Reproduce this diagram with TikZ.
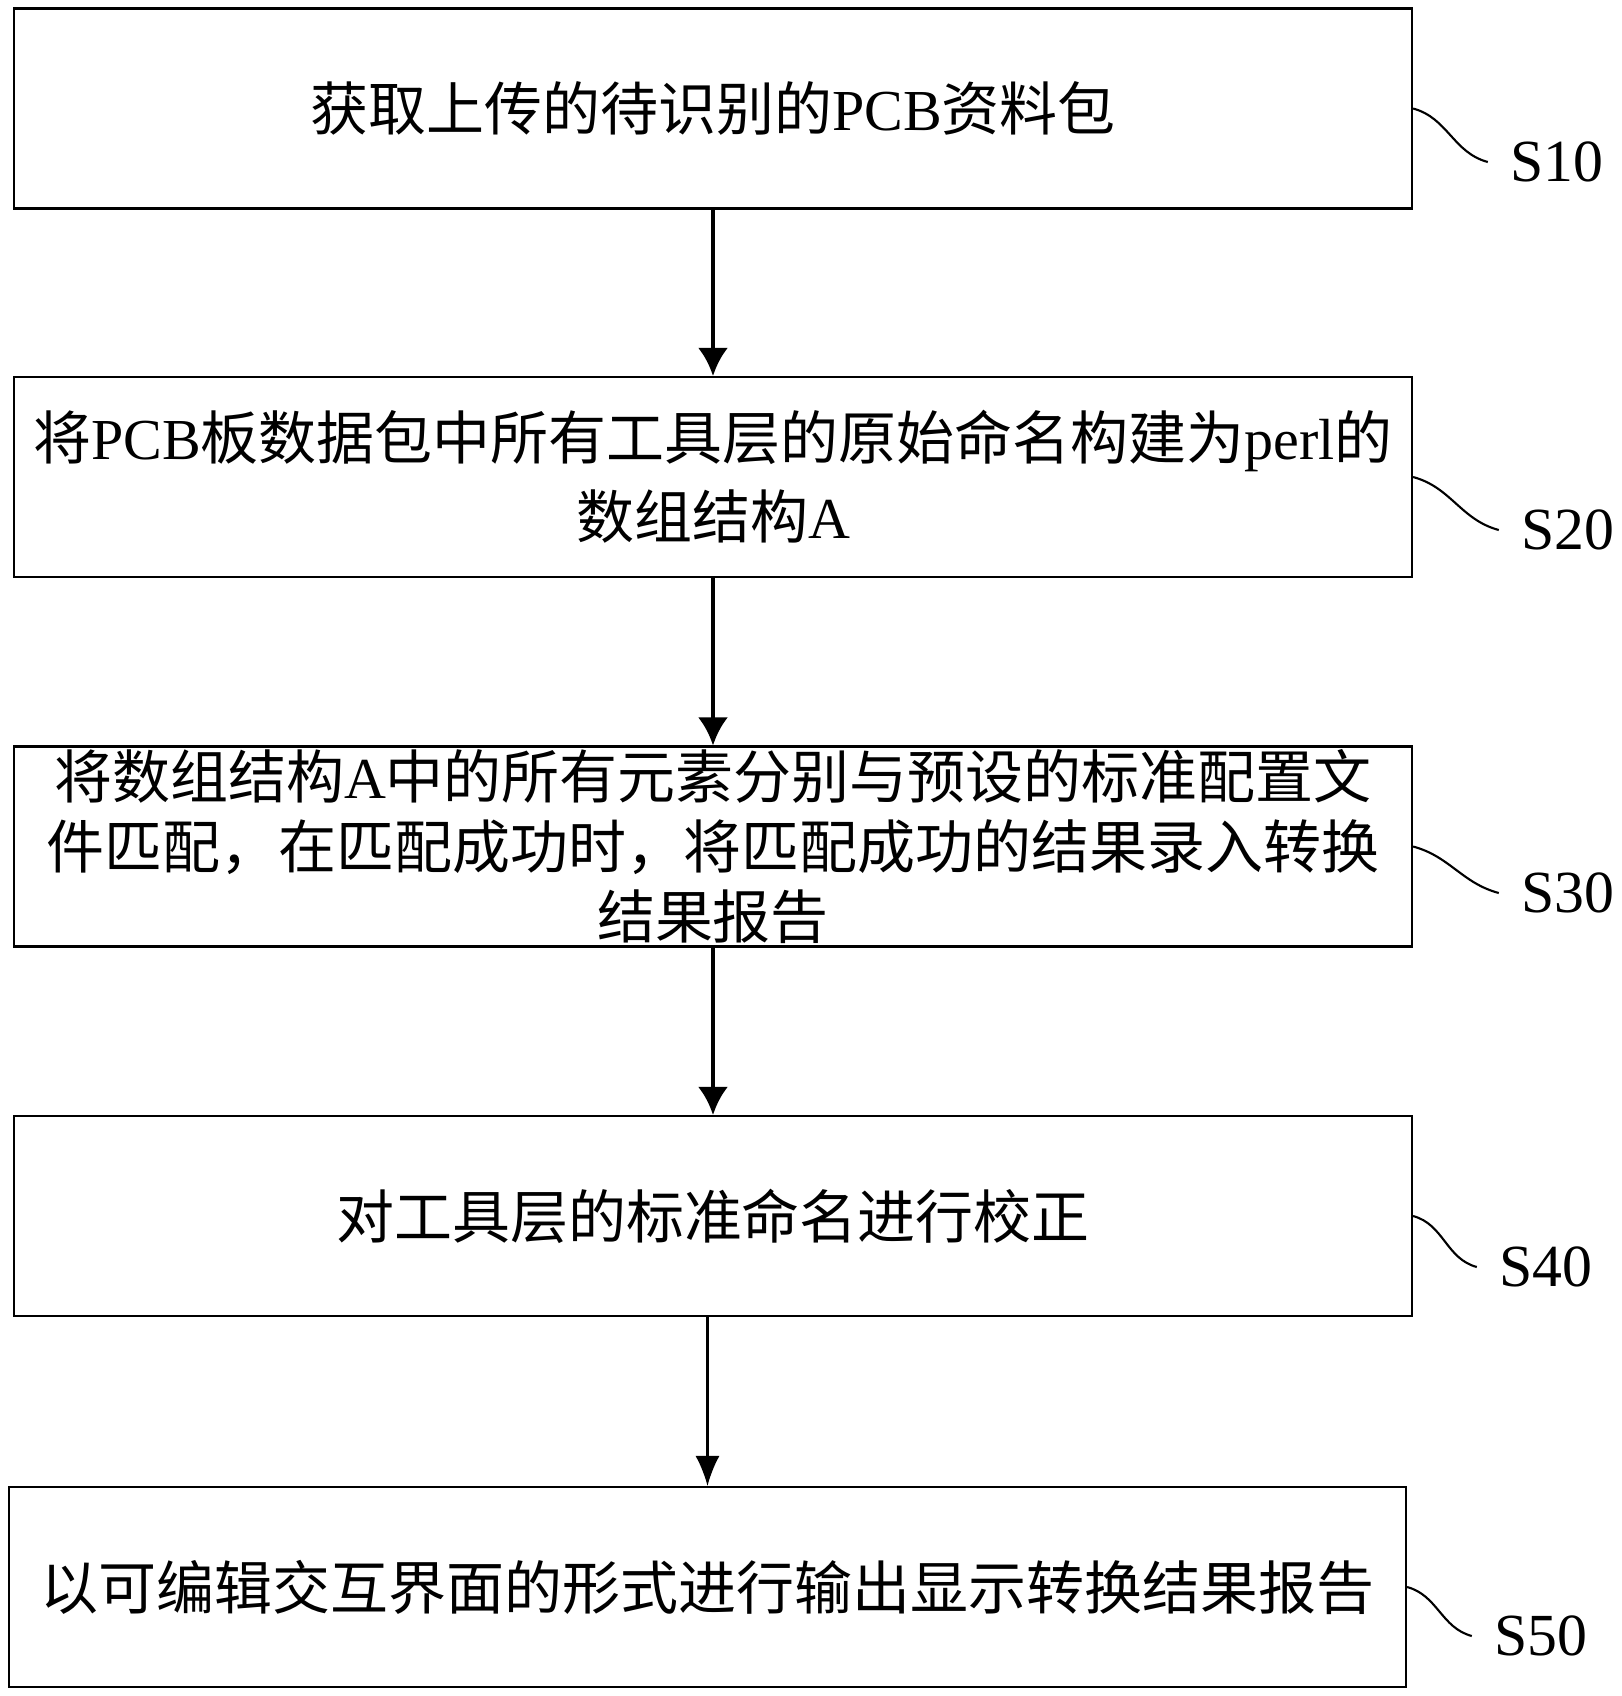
\documentclass[tikz,border=0pt]{standalone}
\usepackage{fontspec}
\setmainfont{Noto Sans CJK SC}
\newfontfamily\lat{Liberation Serif}
\usetikzlibrary{arrows.meta}
\tikzset{>={Latex[length=2.8mm,width=3mm]}}
\tikzset{
  stepbox/.style={draw, line width=0.6pt, minimum width=13.98cm, minimum height=2cm, inner sep=0pt, align=center, font=\fontsize{16.5}{19.9}\selectfont},
  steplabel/.style={inner xsep=0.22cm, font=\lat\fontsize{17}{20}\selectfont},
  flow/.style={->, line width=1.3pt},
  flowthin/.style={->, line width=0.6pt, >={Latex[length=3mm,width=2.4mm]}},
  squig/.style={line width=0.6pt}
}

\begin{document}
\begin{tikzpicture}
\useasboundingbox (0,0) rectangle (16.22,-16.96);
% steps
\node[stepbox] (s1) at (7.13,-1.085) {获取上传的待识别的{\lat PCB}资料包};
\node[stepbox, font=\fontsize{16.5}{22.5}\selectfont] (s2) at (7.13,-4.77) {将{\lat PCB}板数据包中所有工具层的原始命名构建为{\lat perl}的\\数组结构{\lat A}};
\node[stepbox] (s3) at (7.13,-8.465) {将数组结构{\lat A}中的所有元素分别与预设的标准配置文\\件匹配，在匹配成功时，将匹配成功的结果录入转换\\结果报告};
\node[stepbox] (s4) at (7.13,-12.16) {对工具层的标准命名进行校正};
\node[stepbox, minimum width=13.97cm] (s5) at (7.075,-15.87) {以可编辑交互界面的形式进行输出显示转换结果报告};
% step numbers
\node[steplabel] (l1) at (15.57,-1.62) {S10};
\node[steplabel] (l2) at (15.68,-5.30) {S20};
\node[steplabel] (l3) at (15.68,-8.93) {S30};
\node[steplabel] (l4) at (15.46,-12.67) {S40};
\node[steplabel] (l5) at (15.41,-16.36) {S50};
\foreach \i in {1,...,5}
  \draw[squig] (s\i.east) to[out=-15, in=165] (l\i.west);
% arrows
\draw[flow] (s1) -- (s2);
\draw[flow] (s2) -- (s3);
\draw[flow] (s3) -- (s4);
\draw[flowthin] (s4.south -| s5.north) -- (s5.north);
\end{tikzpicture}
\end{document}
